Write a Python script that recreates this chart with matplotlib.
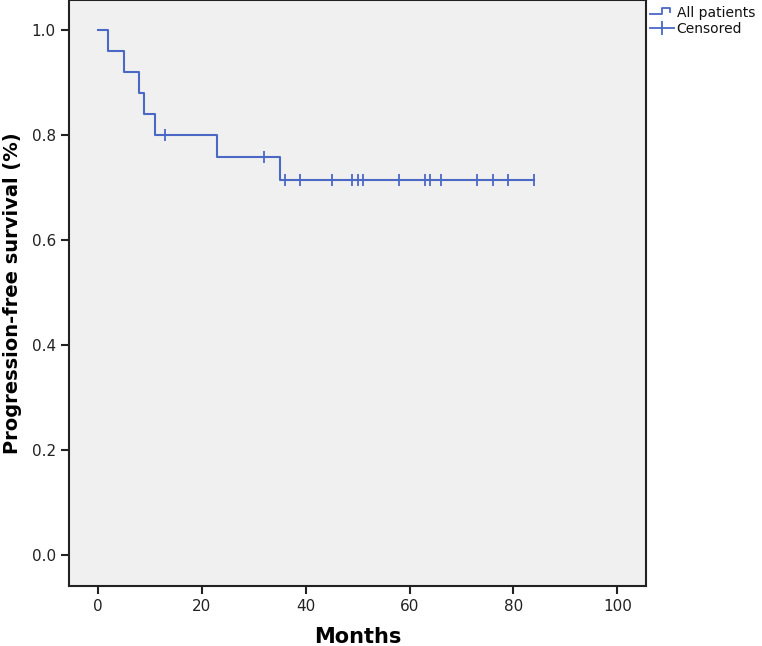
import numpy as np
import matplotlib
matplotlib.use("Agg")
import matplotlib.pyplot as plt
from matplotlib.lines import Line2D
from matplotlib.legend_handler import HandlerBase

# months to event (progression) and months to censoring
event_times = [2, 5, 8, 9, 11, 23, 35]
censor_times = [13, 32, 36, 36, 39, 45, 49, 50, 51, 58, 63, 64, 64, 66, 73, 76, 79, 84]

x_ticks = [0, 20, 40, 60, 80, 100]
y_ticks = [0.0, 0.2, 0.4, 0.6, 0.8, 1.0]

color = "#4a68c4"

# Kaplan-Meier estimate
times = np.array(event_times + censor_times, dtype=float)
events = np.array([1] * len(event_times) + [0] * len(censor_times))
order = np.lexsort((1 - events, times))
times, events = times[order], events[order]

n_risk = len(times)
s = 1.0
step_x, step_y = [0.0], [1.0]
cens_x, cens_y = [], []
for t in np.unique(times):
    d = np.sum((times == t) & (events == 1))
    c = np.sum((times == t) & (events == 0))
    if d > 0:
        s = s * (n_risk - d) / n_risk
    step_x.append(t)
    step_y.append(s)
    if c > 0:
        cens_x.append(t)
        cens_y.append(s)
    n_risk -= d + c

fig = plt.figure(figsize=(7.62, 6.46), dpi=100)
ax = fig.add_axes([0.0906, 0.0929, 0.7572, 0.9071])
ax.set_facecolor("#f0f0f0")

ax.step(step_x, step_y, where="post", color=color, lw=1.5)
ax.plot(cens_x, cens_y, ls="none", marker="|", ms=9, mew=1.3, color=color)

ax.set_xlim(-5.5, 105.5)
ax.set_ylim(-0.059, 1.057)
ax.set_xticks(x_ticks)
ax.set_yticks(y_ticks)
ax.set_yticklabels(["%.1f" % v for v in y_ticks])
ax.tick_params(direction="out", length=6, width=1.5, labelsize=11, colors="#222222")
ax.tick_params(top=False, right=False)
for sp in ax.spines.values():
    sp.set_linewidth(1.5)
    sp.set_color("#222222")

ax.set_xlabel("Months", fontsize=15, fontweight="bold", labelpad=9)
ax.set_ylabel("Progression-free survival (%)", fontsize=14, fontweight="bold", labelpad=7)


class StepHandler(HandlerBase):
    def create_artists(self, legend, orig_handle, xdescent, ydescent, width, height, fontsize, trans):
        xs = [0, width * 0.5, width * 0.5, width * 0.85, width * 0.85]
        ys = [0.25 * height, 0.25 * height, 0.85 * height, 0.85 * height, 0.45 * height]
        ln = Line2D(xs, ys, color=color, lw=1.3, transform=trans)
        return [ln]


h1 = Line2D([], [], color=color)
h2 = Line2D([], [], color=color, marker="|", ms=10, mew=1.3, lw=1.3)
leg = fig.legend([h1, h2], ["All patients", "Censored"], loc="upper left",
                 bbox_to_anchor=(0.846, 1.0), frameon=False, fontsize=10,
                 handlelength=1.7, handletextpad=0.2, borderaxespad=0.0,
                 labelspacing=0.15, handler_map={h1: StepHandler()})
for txt in leg.get_texts():
    txt.set_color("#111111")

fig.savefig("out.png", dpi=100, facecolor="white")
